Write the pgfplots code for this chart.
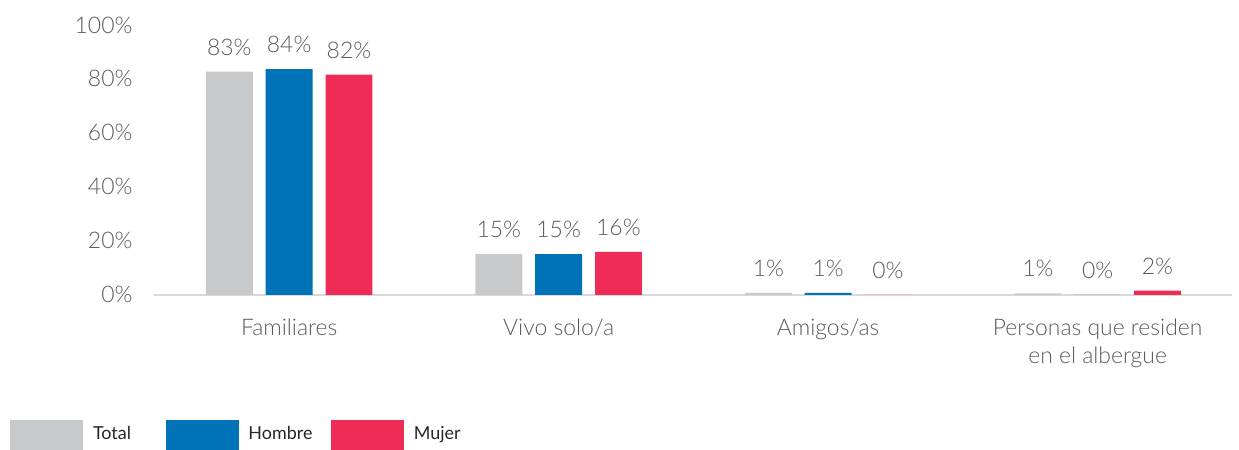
\documentclass[border=0pt]{standalone}
\usepackage{pgfplots}
\pgfplotsset{compat=1.18}
\usepackage{fontspec}
\setmainfont{Lato Light}
\newfontfamily\latoreg{Lato}
\definecolor{cgray}{HTML}{C8C9CB}
\definecolor{cblue}{HTML}{0072B8}
\definecolor{cred}{HTML}{EF2C56}
\definecolor{axgray}{HTML}{D9D9D9}
\definecolor{labgray}{HTML}{5A5A5A}
\begin{document}
\begin{tikzpicture}
\begin{axis}[
  scale only axis, width=541pt, height=135.5pt,
  xmin=-0.5, xmax=3.5, ymin=0, ymax=100,
  axis x line*=bottom, axis y line*=left,
  y axis line style={draw=none},
  x axis line style={draw=axgray, line width=1pt},
  ytick={0,20,40,60,80,100},
  yticklabel={\pgfmathprintnumber{\tick}\%},
  /pgf/number format/assume math mode=true,
  ytick style={draw=none},
  yticklabel style={font=\fontsize{11.5}{14}\selectfont, text=labgray, xshift=-7.5pt},
  xtick={0,1,2,3},
  xticklabels={Familiares,Vivo solo/a,Amigos/as,{Personas que residen\\en el albergue}},
  xticklabel style={align=center, font=\fontsize{11.5}{14.5}\selectfont, text=labgray, yshift=-4pt},
  major x tick style={draw=none},
  extra x ticks={-0.5,0.5,1.5,2.5,3.5},
  extra x tick labels={},
  extra x tick style={tick align=outside, major tick length=4pt, tick style={draw=axgray, line width=1pt}},
  ybar=6.5pt, bar width=23.5pt,
  nodes near coords={\pgfmathprintnumber[fixed,precision=0]{\pgfplotspointmeta}\%},
  every node near coord/.append style={font=\fontsize{11.5}{14}\selectfont, text=labgray, inner sep=0pt, yshift=8pt},
  legend columns=3,
  legend style={at={(-0.134,-0.461)}, anchor=north west, draw=none, inner sep=0pt,
    font=\latoreg\fontsize{9}{11}\selectfont, text=black!85,
    /tikz/every odd column/.append style={column sep=3pt},
    /tikz/every even column/.append style={column sep=0pt}},
  legend image code/.code={\fill[#1,draw=none] (0pt,-7.5pt) rectangle (36.5pt,7.5pt);},
]
\addplot[fill=cgray, draw=none] coordinates {(0,82.7) (1,15.1) (2,0.7) (3,0.6)};
\addplot[fill=cblue, draw=none] coordinates {(0,83.6) (1,15.1) (2,0.7) (3,0)};
\addplot[fill=cred, draw=none] coordinates {(0,81.6) (1,15.9) (2,0) (3,1.6)};
\legend{\makebox[34.5pt][l]{Total},\makebox[39.5pt][l]{Hombre},Mujer}
\end{axis}
\path[use as bounding box] (-77.5pt,-77.5pt) rectangle (542pt,148pt);
\end{tikzpicture}
\end{document}
